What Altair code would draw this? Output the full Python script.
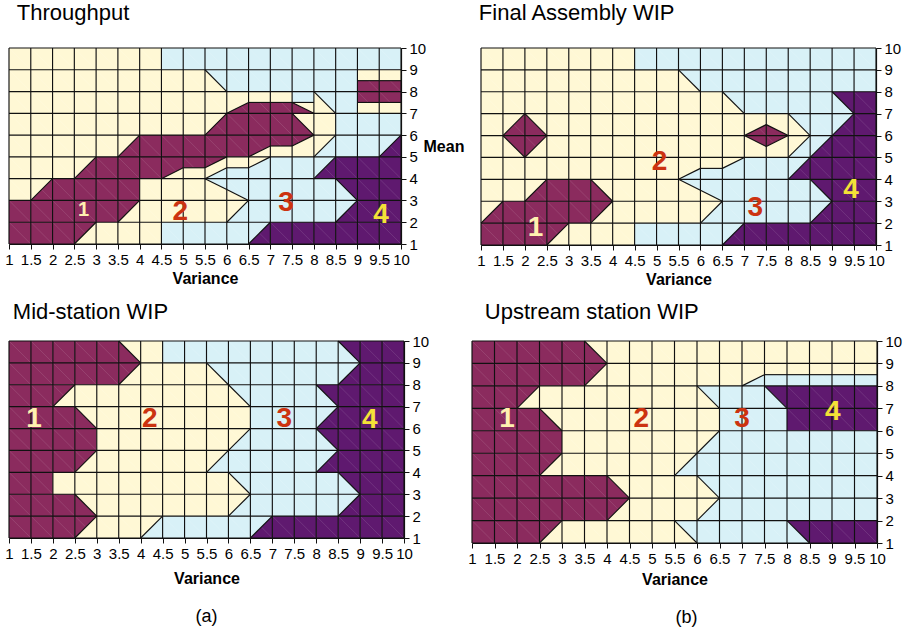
import altair as alt
import pandas as pd

FONT = "Liberation Sans"
INK = "#111111"

X_TICKS = [1, 1.5, 2, 2.5, 3, 3.5, 4, 4.5, 5, 5.5, 6, 6.5, 7, 7.5, 8, 8.5, 9, 9.5, 10]
Y_TICKS = [1, 2, 3, 4, 5, 6, 7, 8, 9, 10]
CLASSES = ["1", "2", "3", "4"]
CLASS_FILL = ["#8B2B5E", "#FFF8D5", "#D8F1F7", "#5F196F"]
LABEL_INK = {"1": "#FFF1B0", "2": "#CC3310", "3": "#CC3310", "4": "#F4E237"}

# cell classes, rows from top (Mean 9-10) to bottom (Mean 1-2); columns Variance 1-1.5 ... 9.5-10
# token: base class, then "+<class><piece>" for the part of the cell cut off by the contour
THROUGHPUT_ROWS = [
    "2 2 2 2 2 2 2 3 3 3 3 3 3 3 3 3 3 3",
    "2 2 2 2 2 2 2 2 2 2+3ur 3 3 3 3 3 3 1+2t 1+2t",
    "2 2 2 2 2 2 2 2 2 2 2+1lrh 2+1b 2+1b 2+1llh+3t 2+3ur 3 1+2b 1+2b",
    "2 2 2 2 2 2 2 2 2 2+1lr 1 1 1 2+1ll 2 3 3 3",
    "2 2 2 2 2 2+1lr 1 1 1 1 1 1+2lrh 1+2b 2+1ulh 2+3lr 3 3 3+4lr",
    "2 2 2 2+1lr 1 1 1 1+2lrh 1+2b 2+1ulh+3lrh 2+3b 3+2ulh 3 3 3+4lr 4 4 4",
    "2 2+1lr 1 1 1 1 2 2 2 2+3urh 2+3urq 3 3 3 3 3+4ur 4 4",
    "1 1 1 1 1 1+2lr 2 2 2 2 2+3lr 3 3 3 3 3+4lr 4 4",
    "1 1 1 1+2lr 2 2 2 3 3 3 3 3+4lr 4 4 4 4 4 4",
]
FINAL_ROWS = [
    "2 2 2 2 2 2 2 3 3 3 3 3 3 3 3 3 3 3",
    "2 2 2 2 2 2 2 2 2 2+3ur 3 3 3 3 3 3 3 3",
    "2 2 2 2 2 2 2 2 2 2 2 2+3ur 3 3 3 3 3+4ur 4",
    "2 2+1lr 2+1ll 2 2 2 2 2 2 2 2 2 2+1lrh 2+1llh 2+3ur 3 3+4lr 4",
    "2 2+1ur 2+1ul 2 2 2 2 2 2 2 2 2 2+1urh 2+1ulh 2+3lr 3+4lr 4 4",
    "2 2 2 2 2 2 2 2 2 2+3lrh 2+3b 2+3lrq 3 3 3+4lr 4 4 4",
    "2 2 2+1lr 1 1 2+1ll 2 2 2 2+3urh 2+3urq 3 3 3 3 3+4ur 4 4",
    "2+1lr 1 1 1 1 2+1ul 2 2 2 2 2+3lr 3 3 3 3 3+4lr 4 4",
    "1 1 1 2+1ul 2 2 2 3 3 3 3 3+4lr 4 4 4 4 4 4",
]
MID_ROWS = [
    "1 1 1 1 1 2+1ll 2 3 3 3 3 3 3 3 3 3+4ur 4 4",
    "1 1 1 1 1 2+1ul 2 2 2 2+3ur 3 3 3 3 3 3+4lr 4 4",
    "1 1 2+1ul 2 2 2 2 2 2 2 2+3ur 3 3 3 3+4ur 4 4 4",
    "1 1 1 2+1ll 2 2 2 2 2 2 2 3 3 3 3+4lr 4 4 4",
    "1 1 1 1 2 2 2 2 2 2 2+3lr 3 3 3 3+4ur 4 4 4",
    "1 1 1 2+1ul 2 2 2 2 2 2+3lr 3 3 3 3 3+4lr 4 4 4",
    "1 1 2 2 2 2 2 2 2 2 2+3ur 3 3 3 3 3+4ur 4 4",
    "1 1 1 2+1ll 2 2 2 2 2 2 2+3lr 3 3 3 3 3+4lr 4 4",
    "1 1 1 2+1ul 2 2 2+3lr 3 3 3 3 3+4lr 4 4 4 4 4 4",
]
UPSTREAM_ROWS = [
    "1 1 1 1 1 2+1ll 2 2 2 2 2 2 2 2 2 2 2 2",
    "1 1 1 1 1 2+1ul 2 2 2 2 2 2 2+3lrh 2+3b 2+3b 2+3b 2+3b 2+3b",
    "1 1 2+1ul 2 2 2 2 2 2 2 2+3ur 3 3 3+4ur 4 4 4 4",
    "1 1 1 2+1ll 2 2 2 2 2 2 2 3 3 3 4 4 4 4",
    "1 1 1 1 2 2 2 2 2 2 2+3lr 3 3 3 3 3 3 3",
    "1 1 1 2+1ul 2 2 2 2 2 2+3lr 3 3 3 3 3 3 3 3",
    "1 1 1 1 1 1 2+1ll 2 2 2 2+3ur 3 3 3 3 3 3 3",
    "1 1 1 1 1 1 2+1ul 2 2 2 2+3lr 3 3 3 3 3 3 3",
    "1 1 1 2+1ul 2 2 2 2 2 2+3ur 3 3 3 3 3+4ur 4 4 4",
]

REGION_NAMES = ["1", "2", "3", "4"]
THROUGHPUT_LX = [2.71, 4.93, 7.36, 9.54]
THROUGHPUT_LY = [2.56, 2.47, 2.86, 2.35]
FINAL_LX = [2.24, 5.07, 7.25, 9.43]
FINAL_LY = [1.76, 4.81, 2.69, 3.52]
MID_LX = [1.57, 4.21, 7.27, 9.22]
MID_LY = [6.44, 6.44, 6.44, 6.40]
UPSTREAM_LX = [1.78, 4.76, 7.00, 9.02]
UPSTREAM_LY = [6.52, 6.52, 6.52, 6.85]

# piece geometry inside a cell: (left low, left high, right low, right high) as fraction of cell height
PIECES = {
    "ul": (0, 1, 1, 1), "lr": (0, 0, 0, 1), "ll": (0, 1, 0, 0), "ur": (1, 1, 0, 1),
    "t": (0.5, 1, 0.5, 1), "b": (0, 0.5, 0, 0.5),
    "lrh": (0, 0, 0, 0.5), "llh": (0, 0.5, 0, 0), "urh": (1, 1, 0.5, 1), "ulh": (0.5, 1, 1, 1),
    "urq": (0.5, 1, 0, 1), "lrq": (0, 0.5, 0, 1),
}


def build(rows):
    cells, pieces, edges, diags = [], [], [], []
    for r, row in enumerate(rows):
        ytop = 10 - r
        ybot = ytop - 1
        for c, tok in enumerate(row.split()):
            x0 = 1 + 0.5 * c
            x1 = x0 + 0.5
            parts = tok.split("+")
            cells.append(dict(x0=x0, x1=x1, y0=ybot, y1=ytop, cls=parts[0]))
            diags.append(dict(xa=x0, ya=ytop, xb=x1, yb=ybot))
            for k, p in enumerate(parts[1:]):
                cls, shape = p[0], p[1:]
                a, b, cc, d = PIECES[shape]
                pid = f"{r}-{c}-{k}"
                pieces.append(dict(pid=pid, x=x0, lo=ybot + a, hi=ybot + b, cls=cls))
                pieces.append(dict(pid=pid, x=x1, lo=ybot + cc, hi=ybot + d, cls=cls))
                if not (a == 0 and cc == 0):
                    edges.append(dict(xa=x0, ya=ybot + a, xb=x1, yb=ybot + cc))
                if not (b == 1 and d == 1):
                    edges.append(dict(xa=x0, ya=ybot + b, xb=x1, yb=ybot + d))
    # grid lines at every tick
    for xv in X_TICKS:
        edges.append(dict(xa=xv, ya=Y_TICKS[0], xb=xv, yb=Y_TICKS[-1]))
    for yv in Y_TICKS:
        edges.append(dict(xa=X_TICKS[0], ya=yv, xb=X_TICKS[-1], yb=yv))
    return (pd.DataFrame(cells), pd.DataFrame(pieces), pd.DataFrame(edges), pd.DataFrame(diags))


def panel(title, rows, lx, ly, w, h, title_dx, title_offset, xpad,
          mean_title=False, one_size=28, caption=None, caption_dx=0, caption_dy=78):
    cells, pieces, edges, diags = build(rows)
    xscale = alt.Scale(domain=[1, 10], nice=False, zero=False)
    yscale = alt.Scale(domain=[1, 10], nice=False, zero=False)
    common = dict(grid=False, domainColor=INK, domainWidth=1.2, tickColor=INK, tickSize=5,
                  tickWidth=1, labelPadding=3, labelFontSize=15, labelColor="#000",
                  labelFont=FONT, labelOverlap=False, labelFlush=False)
    xaxis = alt.Axis(values=X_TICKS, format="~g", title="Variance", titleFont=FONT,
                     titleFontSize=16, titleFontWeight="bold", titleColor="#000",
                     titlePadding=xpad, **common)
    if mean_title:
        yaxis = alt.Axis(orient="right", values=Y_TICKS, format="d", title="Mean",
                         titleFont=FONT, titleFontSize=16, titleFontWeight="bold",
                         titleColor="#000", titleAngle=0, titleAlign="left",
                         titleBaseline="middle", titleX=22, titleY=0.5 * h, **common)
    else:
        yaxis = alt.Axis(orient="right", values=Y_TICKS, format="d", title=None, **common)
    color = alt.Color("cls:N", scale=alt.Scale(domain=CLASSES, range=CLASS_FILL), legend=None)

    rect = alt.Chart(cells).mark_rect(strokeWidth=0).encode(
        x=alt.X("x0:Q", scale=xscale, axis=xaxis), x2="x1:Q",
        y=alt.Y("y0:Q", scale=yscale, axis=yaxis), y2="y1:Q", color=color)
    area = alt.Chart(pieces).mark_area(orient="vertical", strokeWidth=0).encode(
        x=alt.X("x:Q", scale=xscale, axis=xaxis),
        y=alt.Y("lo:Q", scale=yscale, axis=yaxis), y2="hi:Q",
        detail="pid:N", color=color)
    faint = alt.Chart(diags).mark_rule(color="white", opacity=0.14, strokeWidth=0.8).encode(
        x=alt.X("xa:Q", scale=xscale, axis=xaxis), x2="xb:Q",
        y=alt.Y("ya:Q", scale=yscale, axis=yaxis), y2="yb:Q")
    edge = alt.Chart(edges).mark_rule(color=INK, strokeWidth=1.15).encode(
        x=alt.X("xa:Q", scale=xscale, axis=xaxis), x2="xb:Q",
        y=alt.Y("ya:Q", scale=yscale, axis=yaxis), y2="yb:Q")
    lab = pd.DataFrame(dict(name=REGION_NAMES, x=lx, y=ly,
                            ink=[LABEL_INK[n] for n in REGION_NAMES]))
    labels = alt.Chart(lab).mark_text(fontSize=28, fontWeight="bold", font=FONT).encode(
        x=alt.X("x:Q", scale=xscale, axis=xaxis),
        y=alt.Y("y:Q", scale=yscale, axis=yaxis),
        text="name:N", color=alt.Color("ink:N", scale=None),
        size=alt.condition(alt.datum.name == "1", alt.value(one_size), alt.value(28)))
    layers = [rect, area, faint, edge, labels]
    if caption:
        cap = alt.Chart(pd.DataFrame(dict(t=[caption]))).mark_text(
            fontSize=18, font=FONT, color="#000", baseline="middle").encode(
            text="t:N", x=alt.value(w / 2 + caption_dx), y=alt.value(h + caption_dy))
        layers.append(cap)
    return alt.layer(*layers).properties(
        width=w, height=h,
        title=alt.TitleParams(title, anchor="start", dx=title_dx, offset=title_offset,
                              fontSize=22, font=FONT, fontWeight="normal", color="#000"))


A = panel("Throughput", THROUGHPUT_ROWS, THROUGHPUT_LX, THROUGHPUT_LY, 392, 196,
          title_dx=12, title_offset=16, xpad=3, mean_title=True, one_size=20)
B = panel("Final Assembly WIP", FINAL_ROWS, FINAL_LX, FINAL_LY, 395, 197,
          title_dx=2, title_offset=16, xpad=3)
C = panel("Mid-station WIP", MID_ROWS, MID_LX, MID_LY, 395, 197,
          title_dx=8, title_offset=10, xpad=9, caption="(a)", caption_dy=79)
D = panel("Upstream station WIP", UPSTREAM_ROWS, UPSTREAM_LX, UPSTREAM_LY, 405, 202,
          title_dx=17, title_offset=10, xpad=5, caption="(b)", caption_dx=12, caption_dy=75)

chart = alt.vconcat(
    alt.hconcat(A, B, spacing=12),
    alt.hconcat(C, D, spacing=38),
    spacing=14,
).properties(
    padding={"left": 4, "top": 2, "right": 2, "bottom": 2},
    background="white",
).configure_view(stroke=None)

chart.save("out.html", embed_options={"renderer": "svg", "actions": False})
